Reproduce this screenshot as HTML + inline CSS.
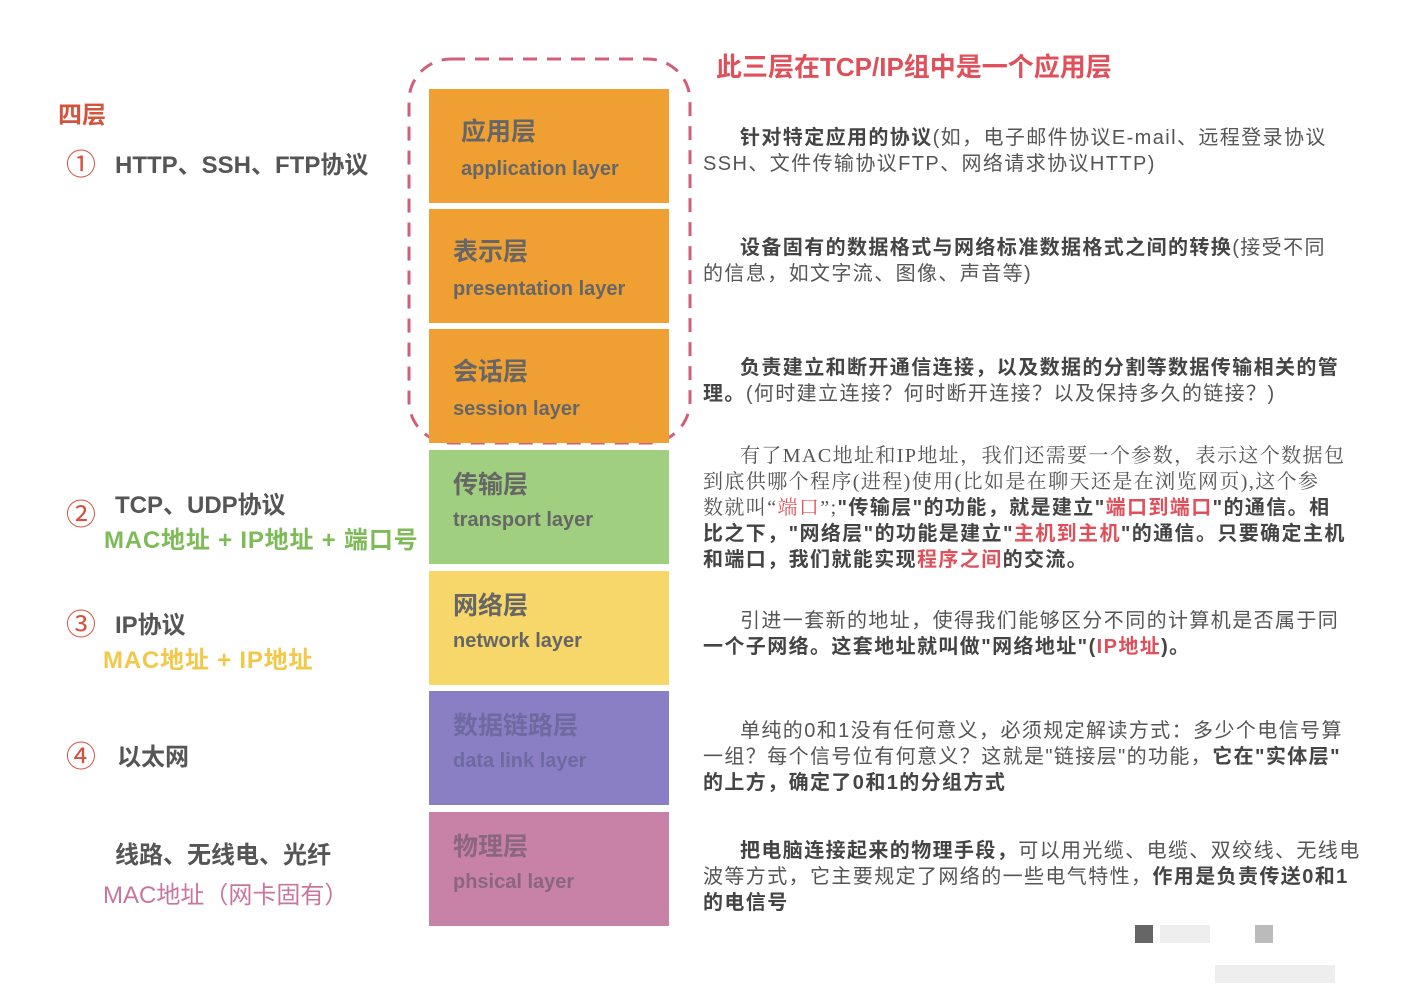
<!DOCTYPE html>
<html><head><meta charset="utf-8"><style>
body{margin:0;width:1418px;height:992px;background:#fff;position:relative;overflow:hidden;font-family:"Liberation Sans","Noto Sans CJK SC",sans-serif;color:#555}
.a{position:absolute;white-space:nowrap}
.box{position:absolute;left:429px;width:240px;height:114px}
.box .c{position:absolute;left:24px;top:28px;font-size:25px;font-weight:bold;color:#666;line-height:30px}
.box .e{position:absolute;left:24px;top:68px;font-size:20px;font-weight:bold;color:#666;line-height:24px}
.l{font-size:24px;font-weight:bold;color:#555}
.n{color:#d4523c;font-size:30px;font-weight:normal;position:absolute;left:66px}
.p{position:absolute;left:703px;font-size:20px;line-height:26px;color:#555;white-space:nowrap;letter-spacing:1.4px}
.i{padding-left:37px}
b{color:#444}
.r{color:#e0505a}
</style></head><body>
<svg class="a" style="left:0;top:0" width="1418" height="992"><rect x="409" y="59" width="281" height="384" rx="42" fill="none" stroke="#d0607a" stroke-width="3" stroke-dasharray="14 10"/></svg>
<div class="a" style="left:716px;top:47px;font-size:26px;font-weight:bold;color:#e0505a">此三层在TCP/IP组中是一个应用层</div>
<div class="a" style="left:58px;top:95px;font-size:24px;font-weight:bold;color:#d4533b">四层</div>
<div class="a n" style="top:140px">①</div>
<div class="a l" style="left:115px;top:145px">HTTP、SSH、FTP协议</div>
<div class="a l" style="left:115px;top:485px">TCP、UDP协议</div>
<div class="a n" style="top:490px">②</div>
<div class="a l" style="left:104px;top:520px;color:#7dbb57;letter-spacing:0.8px">MAC地址 + IP地址 + 端口号</div>
<div class="a n" style="top:600px">③</div>
<div class="a l" style="left:115px;top:605px">IP协议</div>
<div class="a l" style="left:103px;top:640px;color:#f2c84a;letter-spacing:0.8px">MAC地址 + IP地址</div>
<div class="a n" style="top:732px">④</div>
<div class="a l" style="left:117px;top:737px">以太网</div>
<div class="a l" style="left:115px;top:835px">线路、无线电、光纤</div>
<div class="a l" style="left:103px;top:875px;color:#c9769f;font-weight:normal">MAC地址（网卡固有）</div>

<div class="box" style="top:89px;background:#f0a033"><div class="c" style="left:32px">应用层</div><div class="e" style="left:32px">application layer</div></div>
<div class="box" style="top:209px;background:#f0a033"><div class="c">表示层</div><div class="e">presentation layer</div></div>
<div class="box" style="top:329px;background:#f0a033"><div class="c">会话层</div><div class="e">session layer</div></div>
<div class="box" style="top:450px;background:#a0d07f"><div class="c" style="top:20px">传输层</div><div class="e" style="top:58px">transport layer</div></div>
<div class="box" style="top:571px;background:#f7d66a"><div class="c" style="top:20px">网络层</div><div class="e" style="top:58px">network layer</div></div>
<div class="box" style="top:691px;background:#8a7fc4"><div class="c" style="top:20px;color:#6e6aa0">数据链路层</div><div class="e" style="top:58px;color:#6e6aa0">data link layer</div></div>
<div class="box" style="top:812px;background:#c882a8"><div class="c" style="top:20px;color:#8a6680">物理层</div><div class="e" style="top:58px;color:#8a6680">phsical layer</div></div>

<div class="p" style="top:125px"><span class="i"></span><b>针对特定应用的协议</b>(如，电子邮件协议E-mail、远程登录协议<br>SSH、文件传输协议FTP、网络请求协议HTTP)</div>
<div class="p" style="top:235px"><span class="i"></span><b>设备固有的数据格式与网络标准数据格式之间的转换</b>(接受不同<br>的信息，如文字流、图像、声音等)</div>
<div class="p" style="top:355px"><span class="i"></span><b>负责建立和断开通信连接，以及数据的分割等数据传输相关的管<br>理。</b>(何时建立连接？何时断开连接？以及保持多久的链接？)</div>
<div class="p" style="top:443px;font-family:'Liberation Serif','Noto Serif CJK SC',serif"><span class="i"></span>有了MAC地址和IP地址，我们还需要一个参数，表示这个数据包<br>到底供哪个程序(进程)使用(比如是在聊天还是在浏览网页),这个参<br>数就叫“<span class="r">端口</span>”;<b style="font-family:'Liberation Sans','Noto Sans CJK SC',sans-serif">"传输层"的功能，就是建立"<span class="r">端口到端口</span>"的通信。相<br>比之下，"网络层"的功能是建立"<span class="r">主机到主机</span>"的通信。只要确定主机<br>和端口，我们就能实现<span class="r">程序之间</span>的交流。</b></div>
<div class="p" style="top:608px"><span class="i"></span>引进一套新的地址，使得我们能够区分不同的计算机是否属于同<br><b>一个子网络。这套地址就叫做"网络地址"(<span class="r">IP地址</span>)。</b></div>
<div class="p" style="top:718px"><span class="i"></span>单纯的0和1没有任何意义，必须规定解读方式：多少个电信号算<br>一组？每个信号位有何意义？这就是"链接层"的功能，<b>它在"实体层"<br>的上方，确定了0和1的分组方式</b></div>
<div class="p" style="top:838px"><span class="i"></span><b>把电脑连接起来的物理手段，</b>可以用光缆、电缆、双绞线、无线电<br>波等方式，它主要规定了网络的一些电气特性，<b>作用是负责传送0和1<br>的电信号</b></div>
<div class="a" style="left:1135px;top:925px;width:18px;height:18px;background:#666"></div>
<div class="a" style="left:1160px;top:925px;width:50px;height:18px;background:#eee"></div>
<div class="a" style="left:1255px;top:925px;width:18px;height:18px;background:#bbb"></div>
<div class="a" style="left:1215px;top:965px;width:120px;height:18px;background:#eee"></div>
</body></html>
